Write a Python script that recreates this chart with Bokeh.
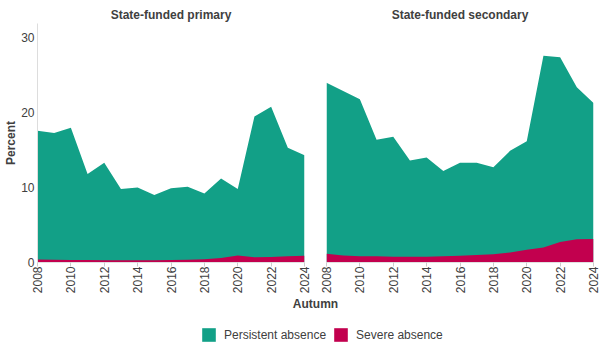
import math
from bokeh.plotting import figure
from bokeh.layouts import column, row
from bokeh.models import Range1d, FixedTicker, Label, Legend, LegendItem, ColumnDataSource
from bokeh.embed import file_html
from bokeh.resources import INLINE

years = list(range(2008, 2025))
primary_persistent = [17.6, 17.3, 18.0, 11.8, 13.3, 9.8, 10.0, 9.0, 9.9, 10.1, 9.2, 11.2, 9.8, 19.5, 20.8, 15.3, 14.3]
primary_severe = [0.4, 0.38, 0.35, 0.32, 0.3, 0.3, 0.3, 0.3, 0.35, 0.38, 0.42, 0.6, 0.93, 0.7, 0.75, 0.85, 0.9]
secondary_persistent = [24.0, 22.9, 21.8, 16.4, 16.8, 13.6, 14.0, 12.2, 13.3, 13.3, 12.7, 14.9, 16.2, 27.6, 27.4, 23.4, 21.3]
secondary_severe = [1.16, 0.93, 0.85, 0.85, 0.76, 0.76, 0.76, 0.85, 0.9, 1.0, 1.1, 1.33, 1.7, 2.0, 2.75, 3.1, 3.15]
tick_years = [2008, 2010, 2012, 2014, 2016, 2018, 2020, 2022, 2024]
y_ticks = [0, 10, 20, 30]
panel_titles = ["State-funded primary", "State-funded secondary"]
series_names = ["Persistent absence", "Severe absence"]

TEAL = "#12A087"
CRIMSON = "#C2004E"
FONT = "Liberation Sans"
TXT = "#404040"


def make_panel(title, persistent, severe, first):
    p = figure(
        title=title,
        frame_width=267,
        frame_height=239,
        x_range=Range1d(2008, 2024),
        y_range=Range1d(0, 31.9),
        output_backend="svg",
        toolbar_location=None,
        min_border_left=37 if first else 12,
        min_border_right=10 if first else 8,
        min_border_top=23,
        min_border_bottom=31,
        y_axis_location="left" if first else None,
    )
    p.outline_line_color = None
    p.grid.visible = False
    p.title.align = "center"
    p.title.text_font = FONT
    p.title.text_font_size = "12px"
    p.title.text_font_style = "bold"
    p.title.text_color = TXT
    p.title.standoff = 4
    src = ColumnDataSource(dict(x=years, per=persistent, sev=severe))
    p.varea(x="x", y1=0, y2="per", source=src, fill_color=TEAL)
    p.varea(x="x", y1=0, y2="sev", source=src, fill_color=CRIMSON)
    xa = p.xaxis[0]
    xa.ticker = FixedTicker(ticks=tick_years)
    xa.major_label_orientation = math.pi / 2
    xa.major_label_text_font = FONT
    xa.major_label_text_font_size = "12px"
    xa.major_label_text_color = TXT
    xa.major_tick_out = 4
    xa.major_tick_in = 0
    xa.minor_tick_out = 0
    xa.minor_tick_in = 0
    xa.major_tick_line_color = "#cccccc"
    xa.axis_line_color = "#e0e0e0"
    xa.major_label_standoff = 0
    if first:
        ya = p.yaxis[0]
        ya.ticker = FixedTicker(ticks=y_ticks)
        ya.axis_label = "Percent"
        ya.axis_label_text_font = FONT
        ya.axis_label_text_font_size = "12px"
        ya.axis_label_text_font_style = "bold"
        ya.axis_label_text_color = TXT
        ya.axis_label_standoff = 0
        ya.major_label_text_font = FONT
        ya.major_label_text_font_size = "12px"
        ya.major_label_text_color = TXT
        ya.major_label_standoff = 3
        ya.major_tick_out = 0
        ya.major_tick_in = 0
        ya.minor_tick_out = 0
        ya.minor_tick_in = 0
        ya.axis_line_color = "#dddddd"
    return p


p1 = make_panel(panel_titles[0], primary_persistent, primary_severe, True)
p2 = make_panel(panel_titles[1], secondary_persistent, secondary_severe, False)

p3 = figure(
    width=602, height=58,
    x_range=Range1d(0, 602), y_range=Range1d(0, 58),
    output_backend="svg", toolbar_location=None,
    min_border=0, x_axis_location=None, y_axis_location=None,
)
p3.outline_line_color = None
p3.grid.visible = False
p3.add_layout(Label(x=315, y=51, text="Autumn", text_font=FONT, text_font_size="12px",
                    text_font_style="bold", text_color=TXT, text_align="center",
                    text_baseline="middle"))
# hidden copies of the series, used only to give the legend its swatches
lsrc = ColumnDataSource(dict(x=years, per=secondary_persistent, sev=secondary_severe))
r1 = p3.varea(x="x", y1=0, y2="per", source=lsrc, fill_color=TEAL)
r2 = p3.varea(x="x", y1=0, y2="sev", source=lsrc, fill_color=CRIMSON)
r1.visible = False
r2.visible = False
legend = Legend(
    items=[LegendItem(label=series_names[0], renderers=[r1]),
           LegendItem(label=series_names[1], renderers=[r2])],
    orientation="horizontal", location=(200, 11),
    padding=0, margin=0, spacing=6, label_standoff=7,
    glyph_width=17, glyph_height=17,
    label_text_font=FONT, label_text_font_size="12px", label_text_color=TXT,
    border_line_alpha=0, background_fill_alpha=0,
    inactive_fill_alpha=0,
)
p3.add_layout(legend, "center")

layout = column(row(p1, p2), p3)
open("out.html", "w").write(file_html(layout, INLINE))
